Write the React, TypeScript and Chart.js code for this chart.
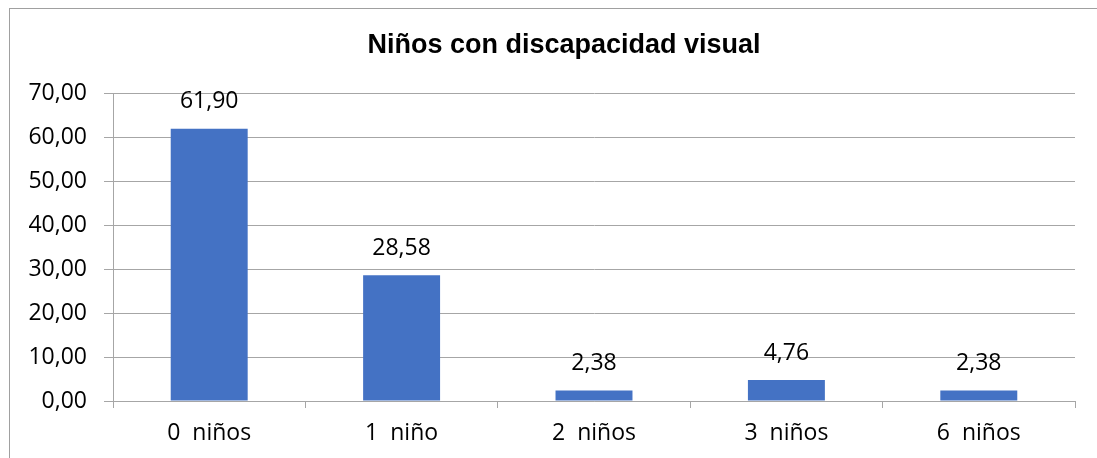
import React, { useEffect, useRef } from "react";
import { Chart, registerables } from "chart.js";

Chart.register(...registerables);

const title = "Niños con discapacidad visual";
const categories = ["0  niños", "1  niño", "2  niños", "3  niños", "6  niños"];
const values = [61.9, 28.58, 2.38, 4.76, 2.38];
const yTicks = [0, 10, 20, 30, 40, 50, 60, 70];

const fmt = (v: number) => v.toFixed(2).replace(".", ",");
const FONT = "'Open Sans', 'Liberation Sans', sans-serif";

const labelsPlugin = {
  id: "barLabels",
  afterDatasetsDraw(chart: any) {
    const ctx = chart.ctx;
    const meta = chart.getDatasetMeta(0);
    ctx.save();
    ctx.fillStyle = "#000";
    ctx.font = `23px ${FONT}`;
    ctx.textAlign = "center";
    ctx.textBaseline = "middle";
    meta.data.forEach((el: any, i: number) => {
      ctx.fillText(fmt(values[i]), el.x, el.y - 27);
    });
    ctx.restore();
  },
};

const titlePlugin = {
  id: "customTitle",
  afterDraw(chart: any) {
    const ctx = chart.ctx;
    ctx.save();
    ctx.fillStyle = "#000";
    ctx.font = `bold 27px 'Liberation Sans', Arial, sans-serif`;
    ctx.textAlign = "center";
    ctx.textBaseline = "middle";
    ctx.fillText(title, 564, 46);
    ctx.restore();
  },
};

export default function App() {
  const ref = useRef<HTMLCanvasElement>(null);
  useEffect(() => {
    if (!ref.current) return;
    const chart = new Chart(ref.current, {
      type: "bar",
      data: {
        labels: categories,
        datasets: [
          {
            data: values,
            backgroundColor: "#4472C4",
            borderWidth: 0,
            barPercentage: 0.4,
            categoryPercentage: 1,
          },
        ],
      },
      options: {
        animation: false,
        responsive: false,
        devicePixelRatio: 1,
        layout: { padding: { left: 0, right: 22, top: 93, bottom: 0 } },
        plugins: { legend: { display: false }, tooltip: { enabled: false }, title: { display: false } },
        scales: {
          x: {
            offset: true,
            grid: {
              display: true,
              offset: true,
              drawOnChartArea: false,
              drawTicks: true,
              tickLength: 7,
              color: "#a6a6a6",
            },
            border: { display: true, color: "#a6a6a6", width: 1 },
            ticks: { color: "#000", font: { family: FONT, size: 23 }, padding: 12, maxRotation: 0 },
            afterFit(scale: any) {
              scale.height = 57;
            },
          },
          y: {
            min: 0,
            max: 70,
            afterBuildTicks(scale: any) {
              scale.ticks = yTicks.map((v) => ({ value: v }));
            },
            grid: { color: "#a6a6a6", tickLength: 9, drawTicks: true },
            border: { display: true, color: "#a6a6a6", width: 1 },
            ticks: {
              color: "#000",
              font: { family: FONT, size: 23 },
              padding: 17,
              callback: (v: any) => fmt(Number(v)),
            },
            afterFit(scale: any) {
              scale.width = 113;
            },
          },
        },
      },
      plugins: [labelsPlugin, titlePlugin],
    });
    return () => chart.destroy();
  }, []);
  return (
    <div style={{ position: "fixed", left: 0, top: 0, width: 1097, height: 458, background: "#fff", overflow: "hidden" }}>
      <div
        style={{
          position: "absolute",
          left: 9,
          top: 8,
          width: 1200,
          height: 600,
          borderLeft: "1px solid #a0a0a0",
          borderTop: "1px solid #a0a0a0",
        }}
      />
      <canvas ref={ref} width={1097} height={458} style={{ position: "absolute", left: 0, top: 0 }} />
    </div>
  );
}
